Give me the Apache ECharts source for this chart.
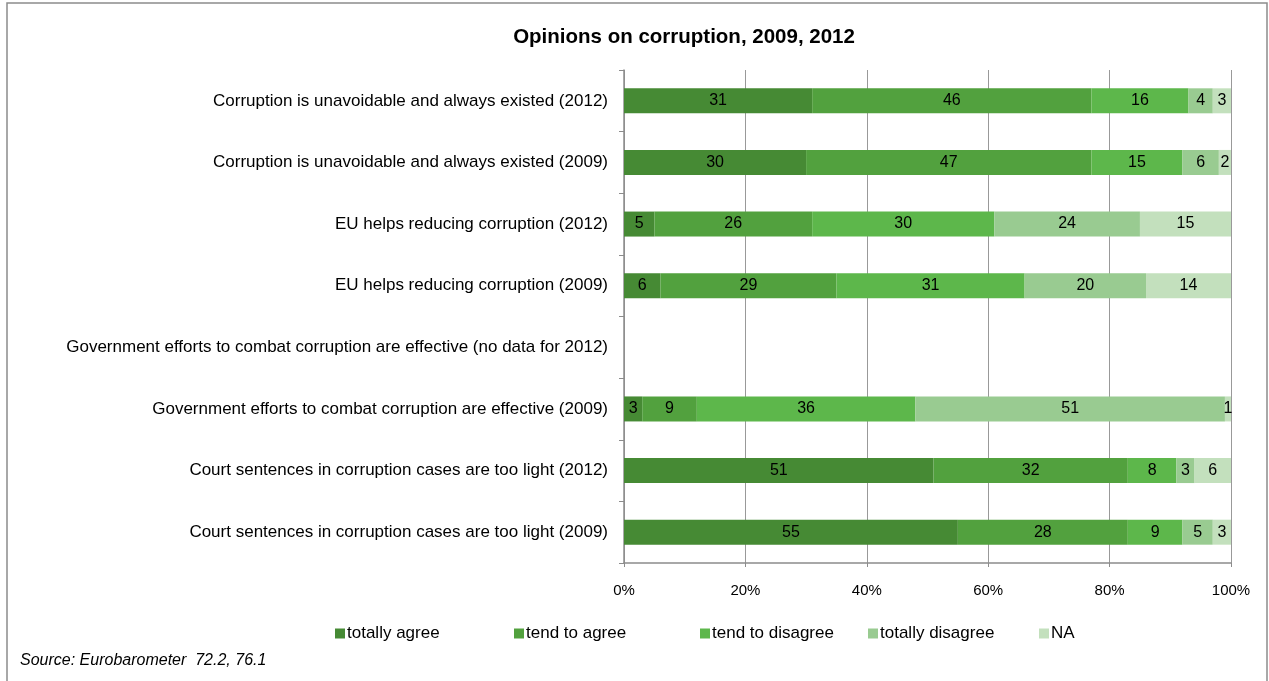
<!DOCTYPE html>
<html>
<head>
<meta charset="utf-8">
<script src="https://cdn.jsdelivr.net/npm/echarts@6/dist/echarts.min.js"></script>
<style>html,body{margin:0;padding:0;background:#fff;}#c{width:1269px;height:681px;}</style>
</head>
<body>
<div id="c"></div>
<script>
const categories = [
  "Corruption is unavoidable and always existed (2012)",
  "Corruption is unavoidable and always existed (2009)",
  "EU helps reducing corruption (2012)",
  "EU helps reducing corruption (2009)",
  "Government efforts to combat corruption are effective (no data for 2012)",
  "Government efforts to combat corruption are effective (2009)",
  "Court sentences in corruption cases are too light (2012)",
  "Court sentences in corruption cases are too light (2009)"
];
const seriesNames = ["totally agree", "tend to agree", "tend to disagree", "totally disagree", "NA"];
const totallyAgree    = [31, 30, 5, 6, null, 3, 51, 55];
const tendToAgree     = [46, 47, 26, 29, null, 9, 32, 28];
const tendToDisagree  = [16, 15, 30, 31, null, 36, 8, 9];
const totallyDisagree = [4, 6, 24, 20, null, 51, 3, 5];
const naValues        = [3, 2, 15, 14, null, 1, 6, 3];
const xTicks = [0, 20, 40, 60, 80, 100];

const colors = ["#468A34", "#52A13E", "#5DB74B", "#99CB91", "#C3E0BD"];
const values = [totallyAgree, tendToAgree, tendToDisagree, totallyDisagree, naValues];
const font = "'Liberation Sans', Arial, sans-serif";

const chart = echarts.init(document.getElementById('c'));
const legendLefts = [330, 509, 695, 863, 1034];

chart.setOption({
  animation: false,
  textStyle: { fontFamily: font },
  title: {
    text: "Opinions on corruption, 2009, 2012",
    left: 679, top: 22, textAlign: 'center',
    textStyle: { fontFamily: font, fontSize: 20.5, fontWeight: 'bold', color: '#000' }
  },
  graphic: [
    { type: 'rect', shape: { x: 7, y: 3, width: 1260, height: 700 },
      style: { fill: 'none', stroke: '#8c8c8c', lineWidth: 1.5 }, silent: true },
    { type: 'text', left: 20, top: 653,
      style: { text: 'Source: Eurobarometer  72.2, 76.1', fontFamily: font, fontSize: 16, fontStyle: 'italic', fill: '#000' } }
  ],
  legend: seriesNames.map((n, i) => ({
    data: [n], left: legendLefts[i], top: 620,
    itemWidth: 10, itemHeight: 10, itemGap: 0, icon: 'rect',
    textStyle: { fontFamily: font, fontSize: 17, color: '#000', padding: [0, 0, 0, -3] }
  })),
  grid: { left: 624, right: 38, top: 70, bottom: 118, containLabel: false },
  xAxis: {
    type: 'value', min: 0, max: 100, interval: 20,
    axisLine: { show: true, lineStyle: { color: '#8c8c8c', width: 1.5 } },
    axisTick: { show: true, length: 4, lineStyle: { color: '#8c8c8c' } },
    axisLabel: { formatter: v => xTicks.includes(v) ? v + '%' : '', fontFamily: font, fontSize: 15, color: '#000', margin: 20 },
    splitLine: { show: true, lineStyle: { color: '#999', width: 1 } }
  },
  yAxis: {
    type: 'category', data: categories, inverse: true,
    axisLine: { show: true, lineStyle: { color: '#8c8c8c', width: 1.5 } },
    axisTick: { show: true, length: 5, inside: false, alignWithLabel: false, lineStyle: { color: '#8c8c8c' } },
    axisLabel: { fontFamily: font, fontSize: 17, color: '#000', margin: 16 }
  },
  series: seriesNames.map((n, i) => ({
    name: n, type: 'bar', stack: 'total', barWidth: 25,
    data: values[i],
    itemStyle: { color: colors[i] },
    label: { show: true, position: 'inside', color: '#000', fontFamily: font, fontSize: 16,
      formatter: p => p.value == null ? '' : String(p.value) }
  }))
});
</script>
</body>
</html>
